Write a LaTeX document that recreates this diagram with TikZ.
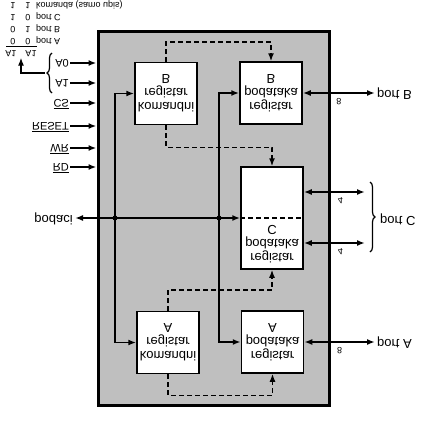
\documentclass[tikz,border=0pt]{standalone}
\usepackage{fontspec}
\setmainfont{Liberation Sans}
\usetikzlibrary{arrows.meta,calc,positioning,decorations.pathreplacing}

\begin{document}
\begin{tikzpicture}[x=1pt, y=1pt, yscale=-1,
    every node/.append style={transform shape},
    >={Latex[length=8pt, width=6pt]},
    chip/.style={draw=black, line width=3pt, fill=black!25, minimum width=231pt, minimum height=374pt},
    reg/.style={draw=black, line width=1.5pt, fill=white, minimum width=62pt, minimum height=62pt,
    align=center, inner sep=0pt, font=\fontsize{13}{14}\selectfont},
    regtext/.style={align=center, inner sep=0pt, font=\fontsize{13}{14}\selectfont},
    pin/.style={font=\fontsize{11}{12}\selectfont, text height=9pt, text depth=1pt, inner sep=1pt},
    port/.style={font=\fontsize{13}{14}\selectfont, text height=9pt, text depth=3pt, inner sep=2pt},
    tab/.style={font=\fontsize{9}{10}\selectfont, text height=6pt, text depth=2pt, inner sep=1pt},
    num/.style={font=\fontsize{9}{10}\selectfont, inner sep=2pt},
    sig/.style={line width=1.6pt, ->},
    ctrl/.style={line width=1.5pt, dash pattern=on 5pt off 3pt, ->},
    brc/.style={line width=1.2pt, decorate, decoration={brace, amplitude=5pt}}]
    \useasboundingbox (0,0) rectangle (429,426);

    % chip body and registers
    \node (chip) [chip] at (213.5,218) {};
    \node (kb) [reg] at (166,93.5) {komandni\\registar\\B};
    \node (pb) [reg] at (271,93) {registar\\podataka\\B};
    \node (pc) [reg, minimum height=102pt] at (272,218) {};
    \node (pctxt) [regtext] at ($(pc.center)!.5!(pc.north)$) {registar\\podataka\\C};
    \node (ka) [reg] at (168,342.5) {komandni\\registar\\A};
    \node (pa) [reg] at (272.5,342) {registar\\podataka\\A};
    \draw [line width=1.2pt, dash pattern=on 5pt off 3pt] (pc.west) -- (pc.east);

    % control inputs
    \foreach \lbl/\yy [count=\i] in {A0/63, A1/83, {$\overline{\hbox{CS}}$}/103,
        {$\overline{\hbox{RESET}}$}/126, {$\overline{\hbox{WR}}$}/148, {$\overline{\hbox{RD}}$}/167}{
        \node (pin\i) [pin, anchor=east] at (70,\yy) {\lbl};
        \draw [sig] (pin\i.east) -- (pin\i.east -| chip.west);
    }

    % address table
    \foreach \a/\b/\txt [count=\i] in {0/0/port A, 0/1/port B, 1/0/port C, 1/1/komanda (samo upis)}{
        \node (ta\i) [tab] at (13,{52-12*\i}) {\a};
        \node (tb\i) [tab] at (28,{52-12*\i}) {\b};
        \node (tt\i) [tab, anchor=west] at (35,{52-12*\i}) {\txt};
    }
    \node (hd) [tab] at (21,52.5) {A1\quad A1};
    \draw [line width=1pt] (6,46.5) -- (37,46.5);
    \draw [brc] (52,93) -- (52,53);
    \coordinate (btip) at (45,73);
    \draw [line width=1.2pt, ->] (btip) -| (hd.north);

    % data bus
    \node (podaci) [port, anchor=east] at (75,218) {podaci};
    \coordinate (j1) at (115,218);
    \coordinate (j2) at (219,218);
    \draw [line width=1.6pt, <->] (podaci.east) -- (pc.west);
    \fill (j1) circle (2.5pt);
    \fill (j2) circle (2.5pt);
    \draw [sig] (j1) |- (kb.west);
    \draw [sig] (j1) |- (ka.west);
    \draw [sig] (j2) |- (pb.west);
    \draw [sig] (j2) |- (pa.west);

    % control paths
    \draw [ctrl] (kb.south) -- ++(0,-20) -| (pb.south);
    \draw [ctrl] (kb.north) -- ++(0,22) -| (pc.south);
    \draw [ctrl] (ka.south) -- ++(0,-21) -| (pc.north);
    \draw [ctrl] (ka.north) -- ++(0,21) -| (pa.north);

    % ports
    \node (portb) [port, anchor=west] at (375,93) {port B};
    \draw [line width=1.6pt, <->] (pb.east) -- (portb.west) node (n8b) [num, pos=.5, above=3pt] {8};
    \node (porta) [port, anchor=west] at (375,342) {port A};
    \draw [line width=1.6pt, <->] (pa.east) -- (porta.west) node (n8a) [num, pos=.5, above=3pt] {8};
    \coordinate (c1) at (365,192);
    \coordinate (c2) at (365,243);
    \draw [line width=1.6pt, <->] (pc.east |- c1) -- (c1) node (n4a) [num, pos=.6, above=3pt] {4};
    \draw [line width=1.6pt, <->] (pc.east |- c2) -- (c2) node (n4b) [num, pos=.6, above=3pt] {4};
    \draw [brc] (370,182) -- (370,252);
    \node (portc) [port, anchor=west] at (378,219) {port C};
\end{tikzpicture}
\end{document}
